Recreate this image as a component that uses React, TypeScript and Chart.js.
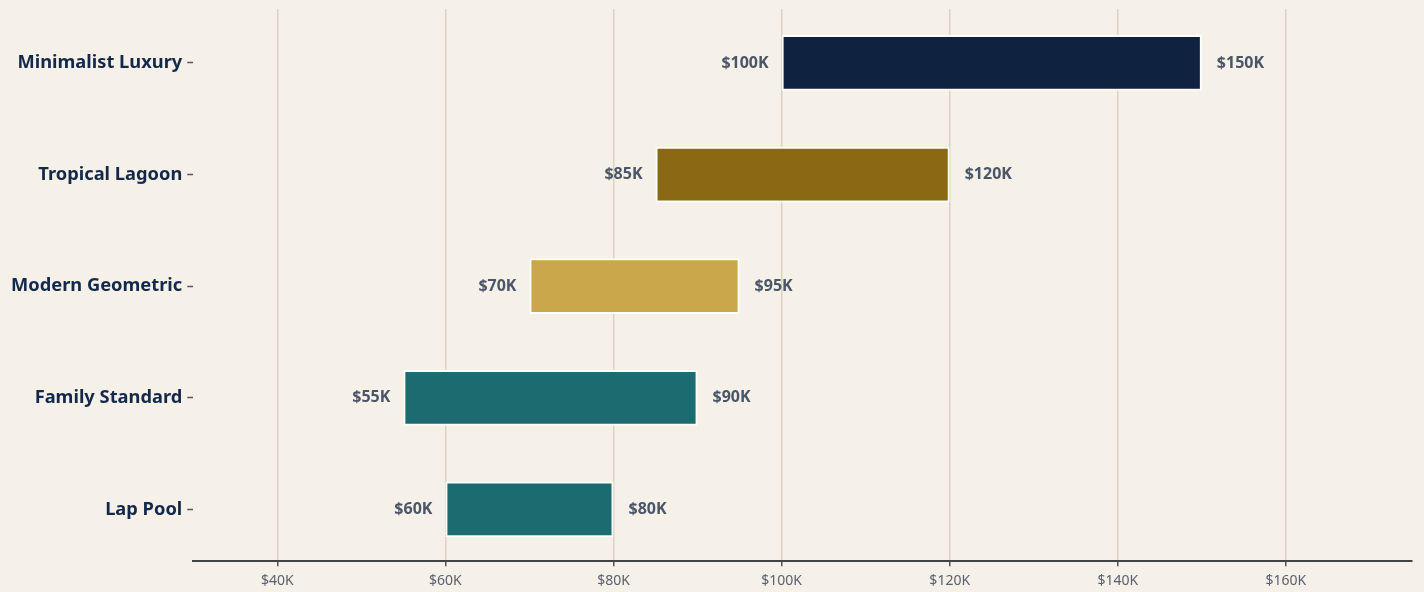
import React, { useEffect, useRef } from "react";
import { Chart, registerables } from "chart.js";

Chart.register(...registerables);

const categories = ["Minimalist Luxury", "Tropical Lagoon", "Modern Geometric", "Family Standard", "Lap Pool"];
const lowValues = [100000, 85000, 70000, 55000, 60000];
const highValues = [150000, 120000, 95000, 90000, 80000];
const barColors = ["#0f2340", "#8b6914", "#c9a74a", "#1c6b70", "#1c6b70"];
const xTickValues = [40000, 60000, 80000, 100000, 120000, 140000, 160000];
const xMin = 30000;
const xMax = 175000;

const fmt = (v: number) => "$" + Math.round(v / 1000) + "K";

const labelPlugin = {
  id: "rangeLabels",
  afterDatasetsDraw(chart: any) {
    const ctx = chart.ctx;
    const meta = chart.getDatasetMeta(0);
    const xs = chart.scales.x;
    ctx.save();
    ctx.font = "bold 16px 'Noto Sans'";
    ctx.fillStyle = "#4a5568";
    ctx.textBaseline = "middle";
    meta.data.forEach((bar: any, i: number) => {
      const x0 = xs.getPixelForValue(lowValues[i]);
      const x1 = xs.getPixelForValue(highValues[i]);
      ctx.textAlign = "right";
      ctx.fillText(fmt(lowValues[i]), x0 - 13, bar.y);
      ctx.textAlign = "left";
      ctx.fillText(fmt(highValues[i]), x1 + 15, bar.y);
    });
    ctx.restore();
  },
};

export default function App() {
  const ref = useRef<HTMLCanvasElement>(null);
  useEffect(() => {
    document.documentElement.style.background = "#f5f0e8";
    document.body.style.background = "#f5f0e8";
    if (!ref.current) return;
    const chart = new Chart(ref.current, {
      type: "bar",
      data: {
        labels: categories,
        datasets: [
          {
            data: categories.map((_, i) => [lowValues[i], highValues[i]]) as any,
            backgroundColor: barColors,
            borderColor: "#ffffff",
            borderWidth: 2,
            borderSkipped: false,
            barPercentage: 0.5,
            categoryPercentage: 1,
          },
        ],
      },
      options: {
        indexAxis: "y",
        animation: false,
        responsive: true,
        maintainAspectRatio: false,
        layout: { padding: { top: 0, right: 4, bottom: 0, left: 0 } },
        plugins: {
          legend: { display: false },
          tooltip: { enabled: false },
        },
        scales: {
          x: {
            min: xMin,
            max: xMax,
            ticks: {
              color: "#5a6070",
              font: { family: "'Noto Sans'", size: 14 },
              padding: 6,
              callback: (v: any) => fmt(Number(v)),
            },
            afterBuildTicks: (axis: any) => {
              axis.ticks = xTickValues.map((v) => ({ value: v }));
            },
            grid: {
              color: "#d9d4c0",
              lineWidth: 1.5,
              drawTicks: true,
              tickLength: 5,
              tickColor: "#555555",
            },
            border: { display: true, color: "#444444", width: 2 },
          },
          y: {
            offset: true,
            afterBuildTicks: (axis: any) => {
              axis._startValue = -0.484;
              axis._valueRange = 4.948;
            },
            ticks: {
              color: "#13284a",
              font: { family: "'Noto Sans'", size: 18.3, weight: "bold", lineHeight: 0.1 },
              padding: 5,
            },
            grid: {
              display: true,
              offset: false,
              drawOnChartArea: false,
              drawTicks: true,
              tickLength: 6,
              tickColor: "#555555",
              tickWidth: 1.5,
            },
            border: { display: false },
          },
        },
      },
      plugins: [labelPlugin],
    });
    return () => chart.destroy();
  }, []);
  return (
    <div style={{ width: "1410px", height: "592px", marginTop: "-5px", marginLeft: "-2px", position: "relative" }}>
      <canvas ref={ref} />
    </div>
  );
}
